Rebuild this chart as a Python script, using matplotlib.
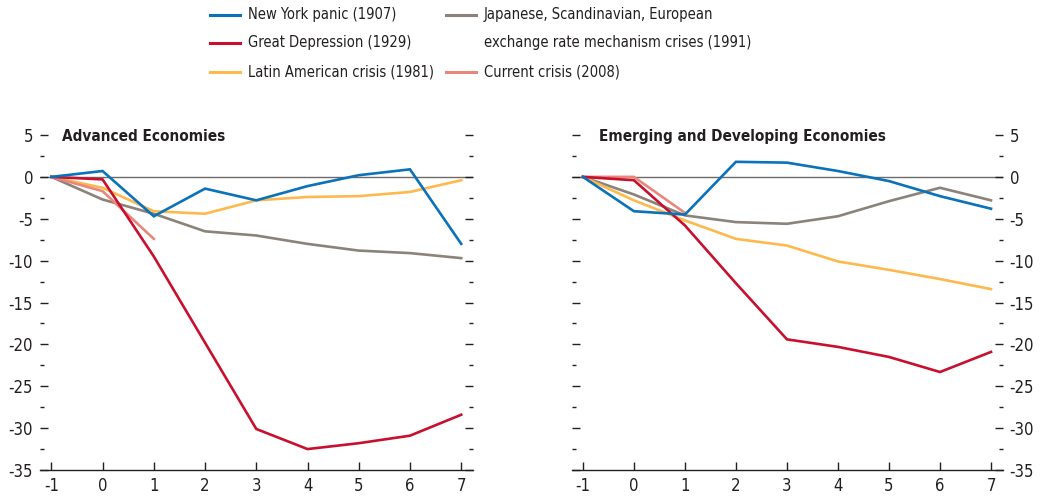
import matplotlib
matplotlib.use("Agg")
import matplotlib.pyplot as plt
from matplotlib.lines import Line2D
from matplotlib.ticker import MultipleLocator
from matplotlib import font_manager
import numpy as np

"""
Output during crises: advanced vs emerging and developing economies,
years relative to the start of each crisis
"""

plt.rcParams['font.family'] = ['DejaVu Sans']
plt.rcParams['font.stretch'] = 'condensed'
plt.rcParams['axes.unicode_minus'] = False
print(font_manager.findfont(font_manager.FontProperties(family='DejaVu Sans', stretch='condensed')))
print(font_manager.findfont(font_manager.FontProperties(family='DejaVu Sans', stretch='condensed', weight='bold')))

years = [-1, 0, 1, 2, 3, 4, 5, 6, 7]
labels = ['New York panic (1907)',
          'Great Depression (1929)',
          'Latin American crisis (1981)',
          'Japanese, Scandinavian, European\nexchange rate mechanism crises (1991)',
          'Current crisis (2008)']
colors = ['#0a72ba', '#c8102e', '#fdb94e', '#8b8279', '#e8877a']

# advanced economies
adv_ny = [0, 0.7, -4.7, -1.4, -2.8, -1.1, 0.2, 0.9, -8.0]
adv_gd = [0, -0.3, -9.5, -19.8, -30.1, -32.5, -31.8, -30.9, -28.4]
adv_la = [0, -1.3, -4.1, -4.4, -2.8, -2.4, -2.3, -1.8, -0.4]
adv_jp = [0, -2.7, -4.4, -6.5, -7.0, -8.0, -8.8, -9.1, -9.7]
adv_cur = [0, -1.7, -7.4]

# emerging and developing economies
em_ny = [0, -4.1, -4.5, 1.8, 1.7, 0.7, -0.5, -2.3, -3.8]
em_gd = [0, -0.4, -5.8, -12.7, -19.4, -20.3, -21.5, -23.3, -20.9]
em_la = [0, -2.8, -5.2, -7.4, -8.2, -10.1, -11.1, -12.2, -13.4]
em_jp = [0, -2.1, -4.6, -5.4, -5.6, -4.7, -2.9, -1.3, -2.8]
em_cur = [0, 0.0, -4.3]

titles = ['Advanced Economies', 'Emerging and Developing Economies']

ink = '#231f20'

fig = plt.figure(figsize=(10.43, 4.98), dpi=100)
ax1 = fig.add_axes([0.0384, 0.0562, 0.4151, 0.6727])
ax2 = fig.add_axes([0.5481, 0.0562, 0.4133, 0.6727])

panels = [(ax1, [adv_ny, adv_gd, adv_la, adv_jp, adv_cur]),
          (ax2, [em_ny, em_gd, em_la, em_jp, em_cur])]

# draw order: gray below, then yellow, pink, red, blue on top
order = [3, 2, 4, 1, 0]

for i, (ax, series) in enumerate(panels):
    ax.axhline(0, color='#6e6a66', lw=1.0, zorder=1)
    for k in order:
        s = series[k]
        ax.plot(years[:len(s)], s, color=colors[k], lw=1.9, zorder=3,
                solid_joinstyle='miter')
    ax.set_xlim(-1.22, 7.23)
    ax.set_ylim(-35, 5)
    for sp in ['left', 'right', 'top']:
        ax.spines[sp].set_visible(False)
    ax.spines['bottom'].set_color(ink)
    ax.spines['bottom'].set_linewidth(1.0)
    ax.set_xticks(years)
    ax.yaxis.set_major_locator(MultipleLocator(5))
    ax.yaxis.set_minor_locator(MultipleLocator(2.5))
    ax.tick_params(axis='x', direction='in', length=6, width=1.0,
                   color=ink, labelcolor=ink, labelsize=12, pad=5)
    ax.tick_params(axis='y', which='major', direction='in', length=6,
                   width=1.0, color=ink, labelcolor=ink, labelsize=12,
                   left=True, right=True, pad=5)
    ax.tick_params(axis='y', which='minor', direction='in', length=3,
                   width=1.0, color=ink, left=True, right=True)
    if i == 0:
        ax.tick_params(axis='y', labelleft=True, labelright=False)
    else:
        ax.tick_params(axis='y', labelleft=False, labelright=True)
    ax.set_yticks(np.arange(-35, 6, 5))
    ax.text(0.05 if i == 0 else 0.064, 0.995, titles[i], transform=ax.transAxes,
            fontsize=11, fontweight='bold', color=ink, va='center', ha='left')

# legend drawn by hand in figure pixels
W, H = 1043, 498
rows = [15, 43, 72]
entries = [(0, 210, rows[0]), (1, 210, rows[1]), (2, 210, rows[2]),
           (3, 446, rows[0]), (4, 446, rows[2])]
for k, x0, y0 in entries:
    fig.add_artist(Line2D([x0 / W, (x0 + 30) / W], [1 - y0 / H, 1 - y0 / H],
                          color=colors[k], lw=2.2, transform=fig.transFigure))
    for j, line in enumerate(labels[k].split('\n')):
        fig.text((x0 + 38) / W, 1 - (y0 + 27 * j) / H, line, fontsize=10.5,
                 color=ink, va='center', ha='left')

fig.savefig('out.png', dpi=100)
